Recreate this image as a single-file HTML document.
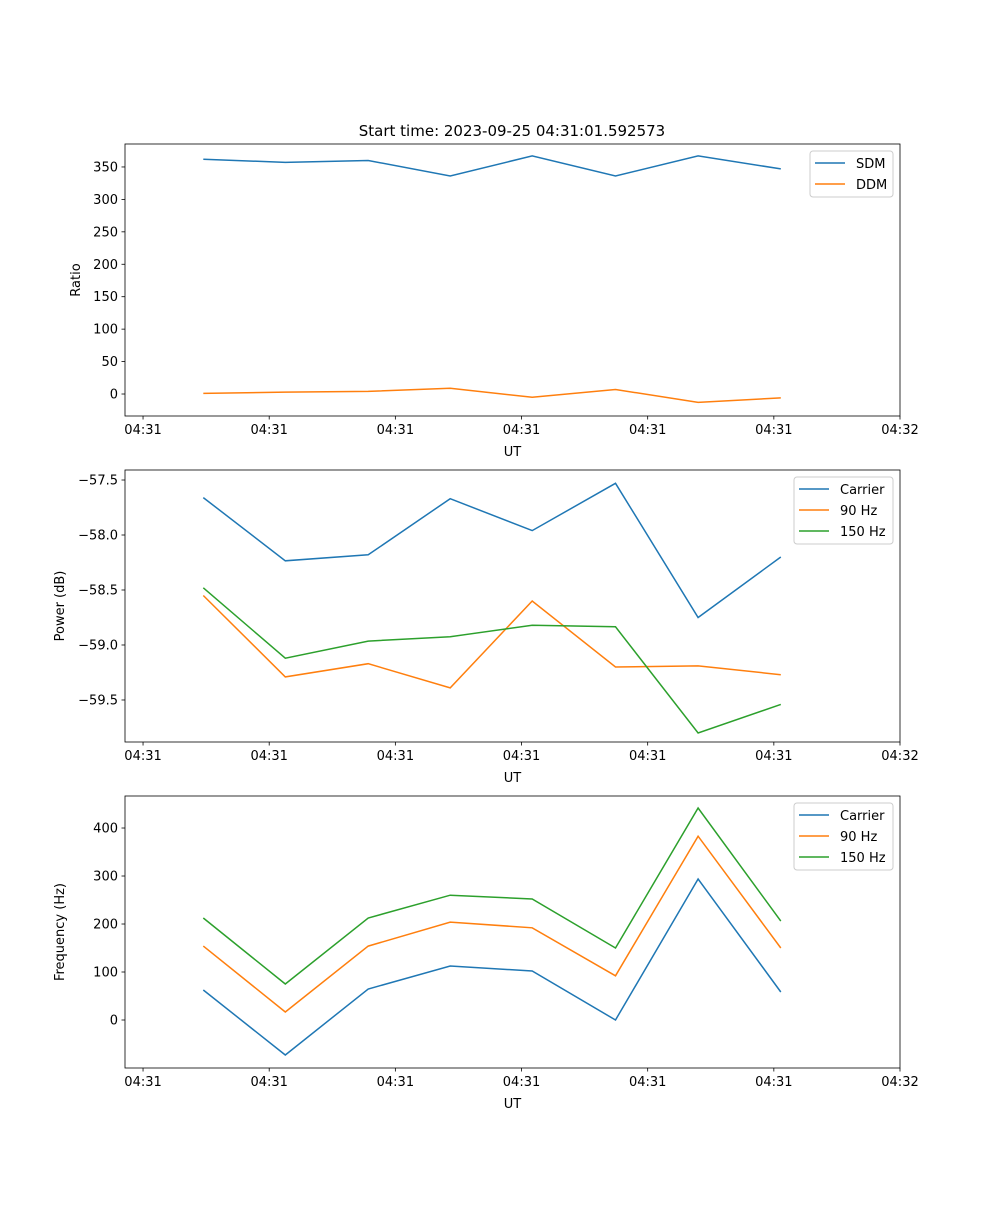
<!DOCTYPE html>
<html><head><meta charset="utf-8"><style>
body{margin:0;background:#fff;}
svg text{font-family:"DejaVu Sans","Liberation Sans",sans-serif;fill:#000;}
</style></head><body>
<svg id="chart" width="1000" height="1200" xmlns="http://www.w3.org/2000/svg"></svg>
<script>
// time values (tick units); ticks at 0..6
const times = [0.478, 1.128, 1.785, 2.435, 3.085, 3.745, 4.40, 5.055];
const xTickVals = [0, 1, 2, 3, 4, 5, 6];
const xTickLabels = ["04:31","04:31","04:31","04:31","04:31","04:31","04:32"];
const sdm = [362, 357, 360, 336, 367, 336, 367, 347];
const ddm = [1, 3, 4, 9, -5, 7, -13, -6];
const powCarrier = [-57.66, -58.235, -58.18, -57.67, -57.96, -57.53, -58.75, -58.2];
const pow90 = [-58.55, -59.29, -59.17, -59.39, -58.6, -59.2, -59.19, -59.27];
const pow150 = [-58.48, -59.12, -58.965, -58.925, -58.82, -58.835, -59.8, -59.54];
const freqCarrier = [62.5, -72.9, 64.6, 112.5, 102, 0, 293.75, 58.3];
const freq90 = [154, 16.7, 154, 204, 192, 92, 383, 150];
const freq150 = [212.5, 75, 212.5, 260, 252, 150, 441.7, 206];
const ratioTicks = [0, 50, 100, 150, 200, 250, 300, 350];
const powTicks = [-59.5, -59.0, -58.5, -58.0, -57.5];
const powTickLabels = ["\u221259.5","\u221259.0","\u221258.5","\u221258.0","\u221257.5"];
const freqTicks = [0, 100, 200, 300, 400];

const NS = "http://www.w3.org/2000/svg";
const svg = document.getElementById('chart');
function mk(tag, attrs, parent){const e=document.createElementNS(NS,tag);for(const k in attrs)e.setAttribute(k,attrs[k]);(parent||svg).appendChild(e);return e;}
const C = ['#1f77b4','#ff7f0e','#2ca02c'];
const L = 125, R = 900;
const xDom = [-0.143, 6.0];
function xs(v){return L + (v - xDom[0]) / (xDom[1] - xDom[0]) * (R - L);}

function panel(name, top, bottom, yDom, yTicks, yLabels, ylabel, series, names, legW){
  const g = mk('g', {});
  
  
  const ys = v => bottom - (v - yDom[0]) / (yDom[1] - yDom[0]) * (bottom - top);
  series.forEach((s, i) => {
    const pts = s.map((v, j) => xs(times[j]).toFixed(1) + ',' + ys(v).toFixed(1)).join(' ');
    const p = mk('polyline', {points: pts, fill: 'none', stroke: C[i], 'stroke-width': 1.5}, g);
    
    
  });
  const f = mk('rect', {x: L, y: top, width: R - L, height: bottom - top, fill: 'none', stroke: '#000', 'stroke-width': 0.8}, g);
  
  
  xTickVals.forEach((v, i) => {
    const x = xs(v);
    mk('line', {x1: x, x2: x, y1: bottom, y2: bottom + 3.5, stroke: '#000', 'stroke-width': 0.8}, g);
    const t = mk('text', {x: x, y: bottom + 18, 'text-anchor': 'middle', 'font-size': 13}, g);
    t.textContent = xTickLabels[i];
    
    
  });
  yTicks.forEach((v, i) => {
    const y = ys(v);
    mk('line', {x1: L - 3.5, x2: L, y1: y, y2: y, stroke: '#000', 'stroke-width': 0.8}, g);
    const t = mk('text', {x: L - 7, y: y + 4.5, 'text-anchor': 'end', 'font-size': 13}, g);
    t.textContent = yLabels[i];
    
    
  });
  const xl = mk('text', {x: (L + R) / 2, y: bottom + 40, 'text-anchor': 'middle', 'font-size': 13}, g);
  xl.textContent = 'UT';
  
  
  const lx = L - (ylabel === 'Ratio' ? 45 : 61);
  const yl = mk('text', {x: lx, y: (top + bottom) / 2, 'text-anchor': 'middle', 'font-size': 13, transform: 'rotate(-90 ' + lx + ' ' + (top + bottom) / 2 + ')'}, g);
  yl.textContent = ylabel;
  
  
  const lg = mk('g', {}, g);
  
  
  const bx = R - 7 - legW, by = top + 7;
  mk('rect', {x: bx, y: by, width: legW, height: 4 + names.length * 21, rx: 3, fill: '#fff', 'fill-opacity': 0.8, stroke: '#ccc', 'stroke-width': 1}, lg);
  names.forEach((n, i) => {
    const y = by + 12 + i * 21;
    const e = mk('g', {}, lg);
    
    
    mk('line', {x1: bx + 5, x2: bx + 35, y1: y, y2: y, stroke: C[i], 'stroke-width': 1.5}, e);
    const t = mk('text', {x: bx + 46, y: y + 5, 'font-size': 13}, e);
    t.textContent = n;
  });
}

const title = mk('text', {x: 512, y: 136, 'text-anchor': 'middle', 'font-size': 15});
title.textContent = 'Start time: 2023-09-25 04:31:01.592573';



panel('ratio-panel', 144, 416, [-33.9, 385.4], ratioTicks, ratioTicks.map(String), 'Ratio', [sdm, ddm], ['SDM', 'DDM'], 83);
panel('power-panel', 470, 742, [-59.882, -57.409], powTicks, powTickLabels, 'Power (dB)', [powCarrier, pow90, pow150], ['Carrier', '90 Hz', '150 Hz'], 99);
panel('frequency-panel', 796, 1068, [-100, 466.7], freqTicks, freqTicks.map(String), 'Frequency (Hz)', [freqCarrier, freq90, freq150], ['Carrier', '90 Hz', '150 Hz'], 99);
</script>
</body></html>
